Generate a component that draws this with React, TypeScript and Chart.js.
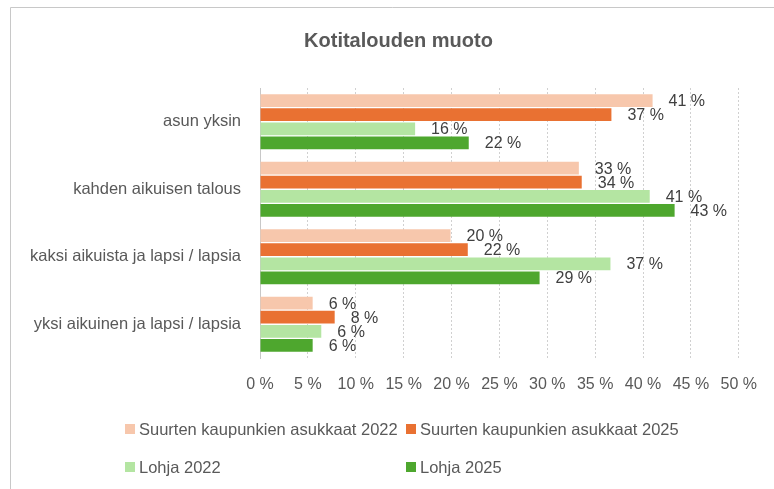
import React, { useEffect, useRef } from "react";
import { Chart, registerables } from "chart.js";

Chart.register(...registerables);

const categories = [
  "asun yksin",
  "kahden aikuisen talous",
  "kaksi aikuista ja lapsi / lapsia",
  "yksi aikuinen ja lapsi / lapsia",
];
const seriesNames = [
  "Suurten kaupunkien asukkaat 2022",
  "Suurten kaupunkien asukkaat 2025",
  "Lohja 2022",
  "Lohja 2025",
];
const suuret2022 = [41.0, 33.3, 19.9, 5.5];
const suuret2025 = [36.7, 33.6, 21.7, 7.8];
const lohja2022 = [16.2, 40.7, 36.6, 6.4];
const lohja2025 = [21.8, 43.3, 29.2, 5.5];
const seriesColors = ["#F7C7AC", "#E97132", "#B4E5A2", "#4EA72E"];
const chartTitle = "Kotitalouden muoto";
const xMax = 50;
const xStep = 5;

const FONT = "'Liberation Sans', Arial, sans-serif";

const decorPlugin = {
  id: "decor",
  beforeDraw(chart: any) {
    const ctx = chart.ctx;
    ctx.save();
    ctx.fillStyle = "#ffffff";
    ctx.fillRect(0, 0, chart.width, chart.height);
    ctx.strokeStyle = "#c8c8c8";
    ctx.lineWidth = 1;
    ctx.beginPath();
    ctx.moveTo(10.5, chart.height);
    ctx.lineTo(10.5, 7.5);
    ctx.lineTo(chart.width, 7.5);
    ctx.stroke();
    ctx.restore();
  },
  afterDraw(chart: any) {
    const ctx = chart.ctx;
    ctx.save();
    // title
    ctx.fillStyle = "#595959";
    ctx.font = `bold 20px ${FONT}`;
    ctx.textAlign = "center";
    ctx.textBaseline = "alphabetic";
    ctx.fillText(chartTitle, 398.5, 46.5);

    // data labels
    ctx.font = `16px ${FONT}`;
    ctx.fillStyle = "#404040";
    ctx.textAlign = "left";
    ctx.textBaseline = "middle";
    chart.data.datasets.forEach((ds: any, di: number) => {
      const meta = chart.getDatasetMeta(di);
      meta.data.forEach((bar: any, i: number) => {
        const v = ds.data[i];
        ctx.fillText(`${Math.round(v)} %`, bar.x + 16, bar.y + 1);
      });
    });

    // legend (2 columns x 2 rows)
    const colX = [125, 406];
    const rowY = [434.5, 472.5];
    ctx.font = `16.5px ${FONT}`;
    ctx.textBaseline = "alphabetic";
    chart.data.datasets.forEach((ds: any, di: number) => {
      const cx = colX[di % 2];
      const cy = rowY[Math.floor(di / 2)];
      ctx.fillStyle = ds.backgroundColor;
      ctx.fillRect(cx, cy - 10.5, 10, 10);
      ctx.fillStyle = "#595959";
      ctx.fillText(ds.label, cx + 14, cy);
    });
    ctx.restore();
  },
};

export default function App() {
  const ref = useRef<HTMLCanvasElement>(null);
  useEffect(() => {
    if (!ref.current) return;
    const seriesData = [suuret2022, suuret2025, lohja2022, lohja2025];
    const chart = new Chart(ref.current, {
      type: "bar",
      data: {
        labels: categories,
        datasets: seriesNames.map((name, i) => ({
          label: name,
          data: seriesData[i],
          backgroundColor: seriesColors[i],
          borderWidth: 0,
          categoryPercentage: 0.835,
          barPercentage: 0.9,
        })),
      },
      options: {
        indexAxis: "y",
        animation: false,
        responsive: false,
        devicePixelRatio: 1,
        layout: { padding: { left: 0, right: 34, top: 88, bottom: 0 } },
        plugins: {
          legend: { display: false },
          title: { display: false },
          tooltip: { enabled: false },
        },
        scales: {
          x: {
            min: 0,
            max: xMax,
            afterFit: (s: any) => {
              s.height = 131;
            },
            ticks: {
              stepSize: xStep,
              color: "#595959",
              font: { family: FONT, size: 16 },
              padding: 17,
              callback: (v: any) => `${v} %`,
            },
            grid: {
              display: true,
              color: "#d0d0d0",
              lineWidth: 1,
              drawTicks: false,
            },
            border: { display: false, dash: [2, 2] },
          },
          y: {
            afterFit: (s: any) => {
              s.width = 260;
            },
            ticks: {
              color: "#595959",
              font: { family: FONT, size: 16.5 },
              padding: 19,
            },
            grid: { display: false, drawTicks: false },
            border: { display: true, color: "#c8c8c8", width: 1 },
          },
        },
      },
      plugins: [decorPlugin],
    });
    return () => chart.destroy();
  }, []);
  return (
    <div style={{ position: "absolute", left: 0, top: 0, width: 774, height: 489 }}>
      <canvas ref={ref} width={774} height={489} style={{ display: "block" }} />
    </div>
  );
}
